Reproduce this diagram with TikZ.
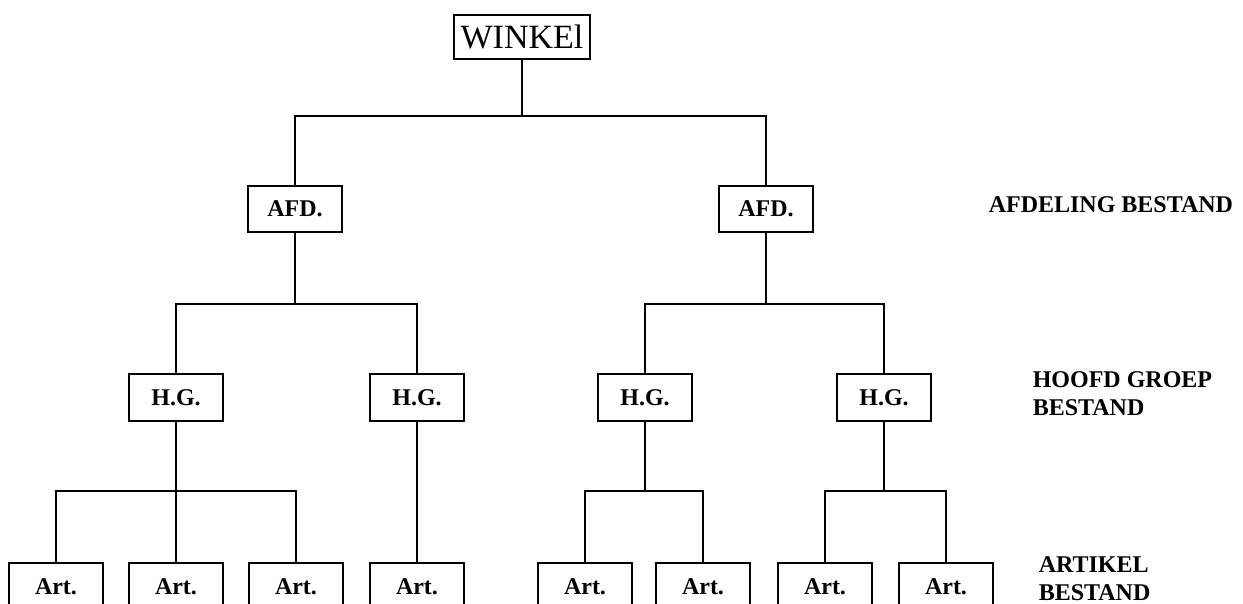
\documentclass[tikz,border=0pt]{standalone}
\usepackage{fontspec}
\setmainfont{Liberation Serif}
\begin{document}
\begin{tikzpicture}[x=1pt,y=-1pt,line width=1.5pt,
  box/.style={draw,rectangle,inner sep=0pt,minimum width=94pt,minimum height=47pt,font=\fontsize{24}{28}\selectfont\bfseries},
  artbox/.style={box,minimum height=48pt},
  lbl/.style={anchor=west,align=left,inner sep=0pt,font=\fontsize{24}{28}\selectfont\bfseries}]
\clip (0,0) rectangle (1243,603);
\fill[white] (0,0) rectangle (1243,603);
% top
\node[draw,rectangle,inner sep=0pt,minimum width=136pt,minimum height=44pt,font=\fontsize{34}{36}\selectfont] (w) at (522,37) {WINKEl};
% level 2
\node[box,minimum height=46pt] (a1) at (295,209) {AFD.};
\node[box,minimum height=46pt] (a2) at (766,209) {AFD.};
% level 3
\node[box] (h1) at (176,397.5) {H.G.};
\node[box] (h2) at (417,397.5) {H.G.};
\node[box] (h3) at (645,397.5) {H.G.};
\node[box] (h4) at (884,397.5) {H.G.};
% level 4
\node[artbox] (r1) at (56,587) {Art.};
\node[artbox] (r2) at (176,587) {Art.};
\node[artbox] (r3) at (296,587) {Art.};
\node[artbox] (r4) at (417,587) {Art.};
\node[artbox] (r5) at (585,587) {Art.};
\node[artbox] (r6) at (703,587) {Art.};
\node[artbox] (r7) at (825,587) {Art.};
\node[artbox] (r8) at (946,587) {Art.};
% connectors
\coordinate (b1) at (522,116);
\draw (w.south) -- (b1);
\draw (a1.north) |- (b1) -| (a2.north);
\coordinate (b2) at (295,304);
\draw (a1.south) -- (b2);
\draw (h1.north) |- (b2) -| (h2.north);
\coordinate (b3) at (766,304);
\draw (a2.south) -- (b3);
\draw (h3.north) |- (b3) -| (h4.north);
\coordinate (c1) at (176,491);
\draw (h1.south) -- (r2.north);
\draw (r1.north) |- (c1) -| (r3.north);
\draw (h2.south) -- (r4.north);
\coordinate (c3) at (645,491);
\draw (h3.south) -- (c3);
\draw (r5.north) |- (c3) -| (r6.north);
\coordinate (c4) at (884,491);
\draw (h4.south) -- (c4);
\draw (r7.north) |- (c4) -| (r8.north);
% labels
\node[lbl] (l1) at (988,205) {AFDELING BESTAND};
\node[lbl] (l2) at (1032,394) {HOOFD GROEP\\BESTAND};
\node[lbl] (l3) at (1038,579) {ARTIKEL\\BESTAND};
\end{tikzpicture}
\end{document}
